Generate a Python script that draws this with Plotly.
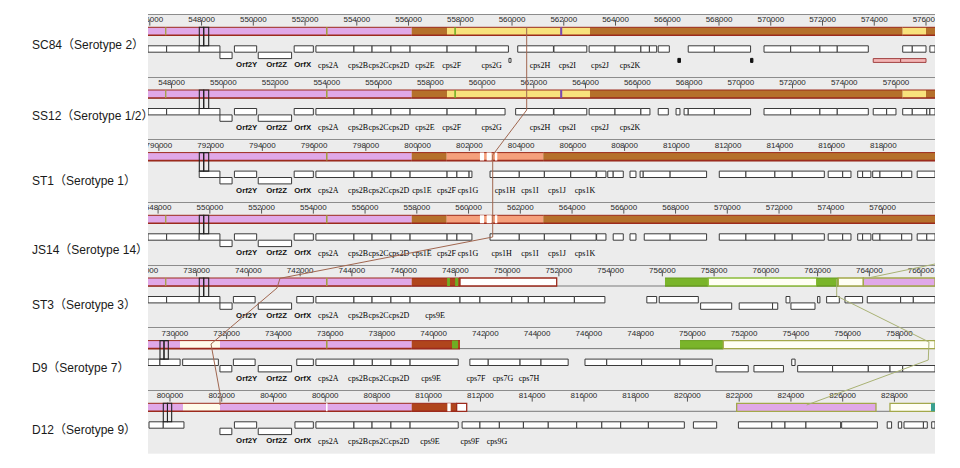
import math
import plotly.graph_objects as go

# ---------------- data ----------------
STRAINS = ["SC84", "SS12", "ST1", "JS14", "ST3", "D9", "D12"]
SEROTYPES = ["2", "1/2", "1", "14", "3", "7", "9"]
VIEW_START = [545930, 547090, 789580, 547610, 736120, 728960, 799150]
VIEW_SPAN = 30418
TICK_STEP = 2000

# locally collinear blocks (start, end, kind)
LCB_SC84 = [(545930, 556122, "pink"), (556122, 557486, "brown"), (557486, 563013, "yellow"),
            (563013, 575099, "brown"), (575099, 576000, "yellow"), (576000, 576350, "brown"),
            (546590, 546640, "olive"), (552810, 552870, "olive"), (557770, 557830, "green"),
            (561860, 561940, "purple")]
LCB_SS12 = [(547090, 557282, "pink"), (557282, 558646, "brown"), (558646, 564173, "yellow"),
            (564173, 576259, "brown"), (576259, 577160, "yellow"), (577160, 577510, "brown"),
            (547750, 547800, "olive"), (553970, 554030, "olive"), (558930, 558990, "green"),
            (563020, 563100, "purple")]
LCB_ST1 = [(789580, 799772, "pink"), (799772, 801125, "brown"), (801125, 804858, "salmon"),
           (804858, 820000, "brown"), (796460, 796520, "olive"),
           (802410, 802570, "white"), (802670, 802860, "white"), (802990, 803080, "white")]
LCB_JS14 = [(547610, 557802, "pink"), (557802, 559155, "brown"), (559155, 562888, "salmon"),
            (562888, 578030, "brown"), (548270, 548320, "olive"), (554490, 554550, "olive"),
            (560440, 560600, "white"), (560700, 560890, "white"), (561020, 561110, "white")]
LCB_ST3 = [(736120, 746312, "pink"), (746312, 748179, "darkred"), (748179, 751916, "white_red"),
           (756102, 757776, "green_solid"), (757776, 761965, "white_green"),
           (761965, 762800, "green_solid"), (762800, 763767, "white_olive"),
           (763767, 766540, "pink_olive"), (736780, 736830, "olive"), (743000, 743060, "olive"),
           (747680, 747790, "green"), (747990, 748110, "green")]
LCB_D9 = [(728960, 730197, "pink"), (730197, 731743, "cream"), (731743, 739152, "pink"),
          (739152, 741019, "darkred"), (749522, 751195, "green_solid"),
          (751195, 759380, "white_olive"), (735840, 735900, "olive"), (740710, 740940, "green")]
LCB_D12 = [(799150, 800503, "pink"), (800503, 801933, "cream"), (801933, 809342, "pink"),
           (809342, 811080, "darkred"), (811080, 811468, "white_red"), (810720, 810850, "white"),
           (821903, 827287, "pink_olive"), (827828, 829568, "white_olive"),
           (829413, 829568, "teal"), (806030, 806090, "white")]
LCBS = [LCB_SC84, LCB_SS12, LCB_ST1, LCB_JS14, LCB_ST3, LCB_D9, LCB_D12]

# annotated features (start, end, track)
GENES_SC84 = [(545930, 546650, "up"), (546650, 547910, "up"), (547910, 548710, "up"), (548710, 549180, "dn"),
              (549270, 550130, "up"), (550190, 551480, "dn"), (551580, 552320, "up"), (552420, 553890, "up"),
              (553890, 554590, "up"), (554590, 555320, "up"), (555320, 556060, "up"), (556060, 557490, "up"),
              (557490, 558610, "up"), (558610, 559860, "up"), (559880, 559960, "tiny"), (560220, 561600, "up"),
              (561620, 562890, "up"), (562980, 563980, "up"), (563980, 564980, "up"), (564980, 565310, "up"),
              (565310, 565590, "up"), (565650, 566080, "up"), (566410, 566510, "mark"), (566810, 567820, "up"),
              (567820, 569220, "up"), (569220, 569310, "mark"), (569740, 570770, "up"), (570770, 571900, "up"),
              (571900, 572570, "up"), (572570, 573770, "up"), (573960, 575020, "rna"), (575020, 576000, "rna"),
              (575100, 575470, "up"), (575470, 576000, "up"), (576150, 576350, "up")]
GENES_SS12 = [(547090, 547810, "up"), (547810, 549070, "up"), (549070, 549870, "up"), (549870, 550340, "dn"),
              (550430, 551290, "up"), (551350, 552640, "dn"), (552740, 553480, "up"), (553580, 555050, "up"),
              (555050, 555750, "up"), (555750, 556480, "up"), (556480, 557220, "up"), (557220, 558650, "up"),
              (558650, 559770, "up"), (559770, 560890, "up"), (561300, 562760, "up"), (562780, 564050, "up"),
              (564140, 565140, "up"), (565140, 566140, "up"), (566140, 566490, "up"), (566810, 567200, "up"),
              (567500, 567650, "up"), (567810, 567970, "up"), (567970, 568980, "up"), (568980, 570380, "up"),
              (570900, 571930, "up"), (571930, 573060, "up"), (573060, 573730, "up"), (573730, 574930, "up"),
              (575120, 575640, "up"), (575640, 576000, "up"), (576260, 576630, "up"), (576630, 577190, "up"),
              (577190, 577310, "up"), (577310, 577510, "up")]
GENES_ST1 = [(791560, 792360, "up"), (792360, 792830, "dn"), (792920, 793780, "up"), (793840, 795130, "dn"),
             (795230, 795970, "up"), (796070, 797540, "up"), (797540, 798240, "up"), (798240, 798970, "up"),
             (798970, 799710, "up"), (799710, 801140, "up"), (801140, 801520, "up"), (801520, 801990, "up"),
             (801990, 802100, "up"), (802800, 803930, "up"), (803930, 804900, "up"), (804900, 805920, "up"),
             (805920, 806900, "up"), (806920, 807280, "up"), (807350, 807560, "up"), (807560, 807950, "up"),
             (808210, 808440, "up"), (808600, 808720, "up"), (808720, 809760, "up"), (809760, 811170, "up"),
             (811660, 812690, "up"), (812690, 813810, "up"), (813810, 814480, "up"), (814480, 815720, "up"),
             (815870, 816430, "up"), (816430, 816750, "up"), (817010, 817200, "up"), (817200, 817520, "up"),
             (817590, 817870, "up"), (817870, 818710, "up"), (818710, 819100, "up"), (819310, 820000, "up")]
GENES_JS14 = [(547610, 548330, "up"), (548330, 549590, "up"), (549590, 550390, "up"), (550390, 550860, "dn"),
              (550950, 551810, "up"), (551870, 553160, "dn"), (553260, 554000, "up"), (554100, 555570, "up"),
              (555570, 556270, "up"), (556270, 557000, "up"), (557000, 557740, "up"), (557740, 559170, "up"),
              (559170, 559550, "up"), (559550, 560130, "up"), (560830, 561960, "up"), (561960, 562930, "up"),
              (562930, 563950, "up"), (563950, 564930, "up"), (564950, 565310, "up"), (565590, 565980, "up"),
              (566240, 566470, "up"), (566790, 567790, "up"), (567790, 569200, "up"), (569690, 570720, "up"),
              (570720, 571840, "up"), (571840, 572510, "up"), (572510, 573750, "up"), (573900, 574460, "up"),
              (574460, 574780, "up"), (575040, 575230, "up"), (575230, 575550, "up"), (575620, 575900, "up"),
              (575900, 576740, "up"), (576740, 577130, "up"), (577340, 577710, "up"), (577710, 578030, "up")]
GENES_ST3 = [(736120, 736840, "up"), (736840, 738100, "up"), (738100, 738900, "up"), (738900, 739370, "dn"),
             (739420, 740260, "up"), (740380, 741670, "dn"), (741870, 742510, "up"), (742610, 744080, "up"),
             (744080, 744780, "up"), (744780, 745510, "up"), (745510, 746250, "up"), (746250, 748180, "up"),
             (748180, 748950, "up"), (748950, 750180, "up"), (750180, 750820, "up"), (750820, 751440, "up"),
             (751440, 752600, "up"), (752600, 753780, "up"), (755400, 755780, "up"), (755880, 757390, "up"),
             (757480, 758680, "dn"), (758970, 760260, "dn"), (760260, 760460, "dn"), (760780, 760930, "up"),
             (760970, 761900, "dn"), (762000, 762090, "up"), (762350, 762840, "up"), (763060, 763740, "up"),
             (763920, 765210, "up"), (765210, 765700, "up"), (765700, 766540, "up")]
GENES_D9 = [(728960, 729420, "up"), (729420, 730200, "up"), (730300, 731680, "up"), (731740, 732200, "dn"),
            (732260, 733100, "up"), (733220, 734510, "dn"), (734710, 735350, "up"), (735450, 736920, "up"),
            (736920, 737630, "up"), (737630, 738350, "up"), (738350, 739090, "up"), (739090, 740950, "up"),
            (741400, 742110, "up"), (742110, 743340, "up"), (743340, 744150, "up"), (744150, 745200, "up"),
            (745850, 746690, "up"), (746690, 748040, "up"), (748040, 749520, "up"), (749520, 750770, "up"),
            (750910, 752160, "dn"), (752380, 753520, "dn"), (753840, 753970, "up"), (754070, 755420, "dn"),
            (755420, 756800, "dn"), (756800, 757640, "dn"), (757640, 758130, "dn"), (758130, 759380, "dn")]
GENES_D12 = [(799190, 799740, "up"), (799740, 800540, "up"), (801930, 802390, "dn"), (802490, 803350, "up"),
             (803410, 804700, "dn"), (804830, 805540, "up"), (805640, 807110, "up"), (807110, 807810, "up"),
             (807810, 808540, "up"), (808540, 809280, "up"), (809280, 811140, "up"), (811290, 811980, "up"),
             (811980, 812730, "up"), (812730, 813660, "up"), (813660, 814620, "up"), (814620, 815720, "up"),
             (815720, 816690, "up"), (816690, 817420, "up"), (817420, 818490, "up"), (818490, 819880, "up"),
             (820230, 821130, "up"), (821970, 823260, "up"), (823260, 823770, "up"), (823770, 824580, "up"),
             (824580, 825920, "up"), (825960, 827340, "up"), (827720, 827890, "up"), (828150, 828280, "up"),
             (828370, 829120, "up"), (829120, 829270, "up"), (829440, 829570, "up")]
GENES = [GENES_SC84, GENES_SS12, GENES_ST1, GENES_JS14, GENES_ST3, GENES_D9, GENES_D12]

# gene names (name, position)
LABELS_SC84 = [("Orf2Y", 549745), ("Orf2Z", 550904), ("OrfX", 551909), ("cps2A", 552900), ("cps2B", 554050),
               ("cps2C", 554840), ("cps2D", 555630), ("cps2E", 556636), ("cps2F", 557668), ("cps2G", 559214),
               ("cps2H", 561081), ("cps2I", 562136), ("cps2J", 563400), ("cps2K", 564559)]
LABELS_SS12 = [("Orf2Y", 550905), ("Orf2Z", 552064), ("OrfX", 553069), ("cps2A", 554060), ("cps2B", 555210),
               ("cps2C", 556000), ("cps2D", 556790), ("cps2E", 557796), ("cps2F", 558828), ("cps2G", 560374),
               ("cps2H", 562241), ("cps2I", 563296), ("cps2J", 564560), ("cps2K", 565719)]
LABELS_ST1 = [("Orf2Y", 793395), ("Orf2Z", 794554), ("OrfX", 795559), ("cps2A", 796550), ("cps2B", 797700),
              ("cps2C", 798490), ("cps2D", 799280), ("cps1E", 800170), ("cps2F", 801117), ("cps1G", 801948),
              ("cps1H", 803378), ("cps1I", 804344), ("cps1J", 805388), ("cps1K", 806470)]
LABELS_JS14 = [("Orf2Y", 551425), ("Orf2Z", 552584), ("OrfX", 553589), ("cps2A", 554580), ("cps2B", 555730),
               ("cps2C", 556520), ("cps2D", 557310), ("cps1E", 558200), ("cps2F", 559147), ("cps1G", 559978),
               ("cps1H", 561280), ("cps1I", 562374), ("cps1J", 563418), ("cps1K", 564500)]
LABELS_ST3 = [("Orf2Y", 739935), ("Orf2Z", 741094), ("OrfX", 742099), ("cps2A", 743090), ("cps2B", 744240),
              ("cps2C", 745030), ("cps2D", 745820), ("cps9E", 747213)]
LABELS_D9 = [("Orf2Y", 732775), ("Orf2Z", 733934), ("OrfX", 734939), ("cps2A", 735930), ("cps2B", 737080),
             ("cps2C", 737870), ("cps2D", 738660), ("cps9E", 739898), ("cps7F", 741637), ("cps7G", 742681),
             ("cps7H", 743686)]
LABELS_D12 = [("Orf2Y", 802965), ("Orf2Z", 804124), ("OrfX", 805129), ("cps2A", 806120), ("cps2B", 807270),
              ("cps2C", 808060), ("cps2D", 808850), ("cps9E", 810049), ("cps9F", 811595), ("cps9G", 812639)]
LABELS = [LABELS_SC84, LABELS_SS12, LABELS_ST1, LABELS_JS14, LABELS_ST3, LABELS_D9, LABELS_D12]

# selected-region cursor (left, middle, right) per genome
CURSOR = [(547913, 548083, 548276), (549073, 549243, 549436), (791563, 791733, 791926),
          (549593, 549763, 549956), (738103, 738273, 738466), (729424, 729578, 729745),
          (799741, 799903, 800065)]

# LCB connecting lines: (genome index, position, vertical offset in the track)
CONNECT_BROWN = [(0, 560567, 12.0), (1, 561727, 32.3), (2, 802903, 14.7), (3, 560933, 34.0),
                 (4, 741222, 12.6), (4, 741106, 22.3), (5, 731395, 15.7), (6, 801933, 2.3),
                 (6, 801933, 14.0)]
CONNECT_GREEN = [(4, 762739, 13.3), (4, 762739, 30.3), (5, 759145, 13.7), (5, 759118, 31.7),
                 (6, 824608, 14.0)]
CONNECT_GREEN2 = [(4, 763767, 13.3), (4, 766538, -1.7)]
CONNECTORS = [(CONNECT_BROWN, "#a0664f"), (CONNECT_GREEN, "#a9b274"), (CONNECT_GREEN2, "#a9b274")]

ROW_LABEL_Y = [45, 116, 181, 250, 305, 368, 430]

# ---------------- style / layout ----------------
W, H = 960, 468
PLOT_X0, PLOT_X1 = 148, 935
PANEL_TOP = [15, 77.7, 140.3, 203, 265.7, 328.3, 391]
PANEL_H = 62.67
BAR_Y = (12.3, 20.3)
TRACK_Y = {"up": (30.8, 37.2), "dn": (37.2, 43.6), "tiny": (43.4, 47.4),
           "mark": (43.4, 47.4), "rna": (43.6, 47.4)}
TRACK_STYLE = {"up": ("white", "#3a3a3a"), "dn": ("white", "#3a3a3a"), "tiny": ("white", "#3a3a3a"),
               "mark": ("#111111", "#111111"), "rna": ("#f3b5b5", "#a04040")}
RED = "#9c2a1c"
BLOCK_STYLE = {
    "pink": ("#e0a8e8", RED, False), "brown": ("#b5702b", RED, False),
    "yellow": ("#f8e27c", RED, False), "salmon": ("#f5a07c", RED, False),
    "darkred": ("#b0451c", RED, False), "cream": ("#fffbea", RED, False),
    "green_solid": ("#7ab52a", "#6a9e22", False),
    "olive": ("#a4a040", None, False), "green": ("#6fae23", None, False),
    "purple": ("#7a4ab0", None, False), "white": ("#ffffff", None, False),
    "teal": ("#3aa090", None, False),
    "white_red": ("#ffffff", RED, True), "white_green": ("#fffff4", "#8cbc3a", True),
    "white_olive": ("#fffff4", "#a3a84a", True), "pink_olive": ("#e0a8e8", "#a3a84a", True),
}
SANS = "Liberation Sans, Arial, sans-serif"
SERIF = "Liberation Serif, Times New Roman, serif"

fig = go.Figure()
shapes = []
annotations = []
xdom = [PLOT_X0 / W, PLOT_X1 / W]
layout_axes = {}

for i in range(len(STRAINS)):
    n = "" if i == 0 else str(i + 1)
    xr, yr = "x" + n, "y" + n
    top = PANEL_TOP[i]
    ydom = [1 - (top + PANEL_H) / H, 1 - top / H]
    s0 = VIEW_START[i]
    s1 = s0 + VIEW_SPAN
    layout_axes["xaxis" + n] = dict(domain=xdom, range=[s0, s1], anchor=yr, side="top",
                                    showline=True, linecolor="#8c8c8c", linewidth=1,
                                    showgrid=False, zeroline=False, showticklabels=False,
                                    ticks="", fixedrange=True)
    layout_axes["yaxis" + n] = dict(domain=ydom, range=[PANEL_H, 0], anchor=xr, showgrid=False,
                                    zeroline=False, showticklabels=False, showline=False,
                                    fixedrange=True)

    # ruler labels and tick marks (labels are clipped at the view edges)
    tks = [t for t in range(int(math.floor(s0 / TICK_STEP)) * TICK_STEP, int(s1) + 1, TICK_STEP)
           if s0 - 600 <= t <= s1 - 300]
    fig.add_trace(go.Scatter(x=tks, y=[5.2] * len(tks), mode="text", text=[str(t) for t in tks],
                             textfont=dict(family=SANS, size=8, color="#2a2a2a"), cliponaxis=True,
                             xaxis=xr, yaxis=yr, hoverinfo="skip", showlegend=False))
    fig.add_trace(go.Scatter(x=tks, y=[7.8] * len(tks), mode="markers",
                             marker=dict(symbol="line-ns", size=4, line=dict(width=1, color="#555555")),
                             xaxis=xr, yaxis=yr, hoverinfo="skip", showlegend=False))

    # backbone line
    shapes.append(dict(type="line", xref=xr, yref=yr, x0=s0, x1=s1, y0=BAR_Y[1], y1=BAR_Y[1],
                       line=dict(color="#7a7a7a", width=1)))
    # LCB blocks
    for (a, b, kind) in LCBS[i]:
        fill, edge, boxed = BLOCK_STYLE[kind]
        if boxed:
            shapes.append(dict(type="rect", xref=xr, yref=yr, x0=a, x1=b, y0=BAR_Y[0], y1=BAR_Y[1],
                               fillcolor=fill, line=dict(color=edge, width=1.3)))
        else:
            shapes.append(dict(type="rect", xref=xr, yref=yr, x0=a, x1=b, y0=BAR_Y[0], y1=BAR_Y[1],
                               fillcolor=fill, line=dict(width=0)))
            if edge:
                shapes.append(dict(type="line", xref=xr, yref=yr, x0=a, x1=b, y0=BAR_Y[0], y1=BAR_Y[0],
                                   line=dict(color=edge, width=1)))
                shapes.append(dict(type="line", xref=xr, yref=yr, x0=a, x1=b, y0=BAR_Y[1], y1=BAR_Y[1],
                                   line=dict(color=edge, width=1.6)))
    # gene features
    for (a, b, trk) in GENES[i]:
        y0, y1 = TRACK_Y[trk]
        fill, edge = TRACK_STYLE[trk]
        shapes.append(dict(type="rect", xref=xr, yref=yr, x0=a, x1=b, y0=y0, y1=y1,
                           fillcolor=fill, line=dict(color=edge, width=1)))
    # cursor
    c0, c1, c2 = CURSOR[i]
    for (a, b) in [(c0, c1), (c1, c2)]:
        shapes.append(dict(type="rect", xref=xr, yref=yr, x0=a, x1=b, y0=BAR_Y[0], y1=TRACK_Y["up"][0],
                           fillcolor="rgba(0,0,0,0)", line=dict(color="#222222", width=1.1)))

    # gene names
    orf = [(t, p) for (t, p) in LABELS[i] if t.startswith("Orf")]
    cps = [(t, p) for (t, p) in LABELS[i] if not t.startswith("Orf")]
    fig.add_trace(go.Scatter(x=[p for _, p in orf], y=[50.5] * len(orf), mode="text",
                             text=["<b>%s</b>" % t for t, _ in orf],
                             textfont=dict(family=SANS, size=7.8, color="#111111"),
                             xaxis=xr, yaxis=yr, hoverinfo="skip", showlegend=False))
    fig.add_trace(go.Scatter(x=[p for _, p in cps], y=[50.5] * len(cps), mode="text",
                             text=[t for t, _ in cps],
                             textfont=dict(family=SERIF, size=8, color="#000000"),
                             xaxis=xr, yaxis=yr, hoverinfo="skip", showlegend=False))

    annotations.append(dict(xref="paper", yref="paper", x=30 / W, y=1 - ROW_LABEL_Y[i] / H,
                            xanchor="left", yanchor="middle", showarrow=False,
                            text="%s（Serotype %s）" % (STRAINS[i], SEROTYPES[i]),
                            font=dict(family="Liberation Sans, Noto Sans CJK SC, sans-serif",
                                      size=12, color="#1a1a1a")))


def to_paper(i, pos, yoff):
    x = xdom[0] + (pos - VIEW_START[i]) / VIEW_SPAN * (xdom[1] - xdom[0])
    y = 1 - (PANEL_TOP[i] + yoff) / H
    return x, y


for pts, col in CONNECTORS:
    for p, q in zip(pts[:-1], pts[1:]):
        xa, ya = to_paper(*p)
        xb, yb = to_paper(*q)
        shapes.append(dict(type="line", xref="paper", yref="paper", x0=xa, y0=ya, x1=xb, y1=yb,
                           line=dict(color=col, width=1)))

fig.update_layout(width=W, height=H, margin=dict(l=0, r=0, t=0, b=0),
                  paper_bgcolor="white", plot_bgcolor="#ececec", showlegend=False,
                  shapes=shapes, annotations=annotations, hovermode=False, **layout_axes)
fig.write_html("out.html", config={"displayModeBar": False, "staticPlot": True},
               post_script="document.body.style.margin='0px';document.body.style.padding='0px';"
                           "document.body.style.overflow='hidden';")
